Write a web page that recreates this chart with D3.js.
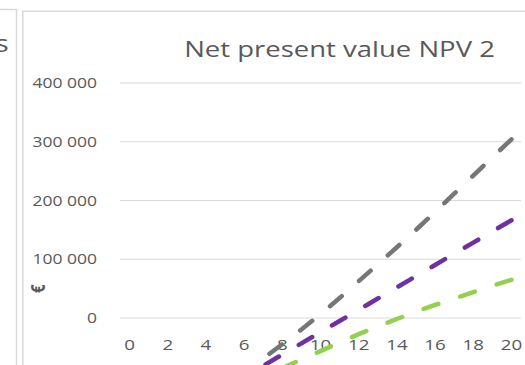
<!DOCTYPE html>
<html>
<head>
<meta charset="utf-8">
<script src="https://cdn.jsdelivr.net/npm/d3@7"></script>
<style>
  html, body { margin: 0; padding: 0; background: #ffffff; }
  svg { display: block; }
  text { font-family: "Open Sans", "Noto Sans", sans-serif; fill: #595959; }
</style>
</head>
<body>
<svg id="chart" width="525" height="365"></svg>
<script>
// Years of the analysis period (category axis)
const years = [0, 1, 2, 3, 4, 5, 6, 7, 8, 9, 10, 11, 12, 13, 14, 15, 16, 17, 18, 19, 20];
// Category labels shown on the axis (every second year)
const xTickLabels = [0, 2, 4, 6, 8, 10, 12, 14, 16, 18, 20];
// Value axis gridlines / labels (€)
const yTicks = [-300000, -200000, -100000, 0, 100000, 200000, 300000, 400000];

// Cumulative net present value per year (€)
const npvGrey = [-220900, -201300, -181000, -160000, -138300, -115900, -92800, -69000, -44500, -19500,
                 6500, 34000, 62500, 91500, 120500, 150000, 180500, 211500, 242500, 273500, 304000];
const npvPurple = [-214600, -195500, -176500, -157400, -138400, -119400, -100300, -81300, -62200, -43200,
                   -24100, -5100, 14000, 33100, 52100, 71200, 90200, 109300, 128300, 147400, 166400];
const npvGreen = [-205000, -190500, -175800, -160900, -146000, -130900, -115800, -100500, -85000, -70800,
                  -56400, -41600, -27500, -14400, -1700, 10700, 22200, 33100, 44100, 55000, 65000];

const seriesList = [
  { values: npvGrey, color: "#767676" },
  { values: npvPurple, color: "#7030a0" },
  { values: npvGreen, color: "#92d050" }
];

const W = 525, H = 365;
const svg = d3.select("#chart");
const stretch = 1.25; // horizontal text stretch of the sheet rendering

// Plot area
const plot = { left: 120, right: 521, top: 83, bottom: 494.25 };

const x = d3.scalePoint().domain(years).range([plot.left, plot.right]).padding(0.5);
const y = d3.scaleLinear().domain([-300000, 400000]).range([plot.bottom, plot.top]);

const locale = d3.formatLocale({ decimal: ",", thousands: " ", grouping: [3], currency: ["", " €"], minus: "-" });
const fmt = locale.format(",d");

// Neighbouring panel edge (left) and chart frame
svg.append("path")
  .attr("d", "M0,9.5H16.5V365")
  .attr("fill", "none").attr("stroke", "#d9d9d9").attr("stroke-width", 1.5);
svg.append("path")
  .attr("d", "M22.75,365V11.25H525")
  .attr("fill", "none").attr("stroke", "#d9d9d9").attr("stroke-width", 1.5);

// Trailing letter of the neighbouring panel's title
svg.append("text")
  .attr("transform", `translate(8.8,51.5) scale(${stretch},1)`)
  .attr("text-anchor", "end")
  .style("font-size", "24px")
  .text("s");

// Title
svg.append("text")
  .attr("transform", `translate(339.5,57) scale(${stretch},1)`)
  .attr("text-anchor", "middle")
  .style("font-size", "22px")
  .text("Net present value NPV 2");

// Horizontal gridlines
svg.append("g")
  .selectAll("line")
  .data(yTicks)
  .join("line")
  .attr("x1", plot.left).attr("x2", plot.right)
  .attr("y1", d => y(d)).attr("y2", d => y(d))
  .attr("stroke", "#d9d9d9").attr("stroke-width", 1.2);

// Value axis labels (only those that fall inside the visible sheet area)
svg.append("g")
  .selectAll("text")
  .data(yTicks.filter(d => y(d) + 5 < H))
  .join("text")
  .attr("transform", d => `translate(97,${y(d) + 5}) scale(${stretch},1)`)
  .attr("text-anchor", "end")
  .style("font-size", "14px")
  .text(d => fmt(d));

// Value axis title
svg.append("text")
  .attr("transform", `translate(44.5,${(plot.top + plot.bottom) / 2}) scale(${stretch},1) rotate(-90)`)
  .attr("text-anchor", "middle")
  .style("font-size", "15px")
  .style("font-weight", "bold")
  .text("€");

// Category labels next to the axis at zero
svg.append("g")
  .selectAll("text")
  .data(xTickLabels)
  .join("text")
  .attr("transform", d => `translate(${x(d)},${y(0) + 32}) scale(${stretch},1)`)
  .attr("text-anchor", "middle")
  .style("font-size", "15px")
  .text(d => d);

// Dashed NPV lines
const line = d3.line()
  .x((d, i) => x(years[i]))
  .y(d => y(d));

svg.append("defs").append("clipPath").attr("id", "plotClip")
  .append("rect")
  .attr("x", plot.left - 10).attr("y", plot.top - 10)
  .attr("width", plot.right - plot.left + 20).attr("height", plot.bottom - plot.top + 20);

const dashOn = 15.5, dashOff = 23, period = dashOn + dashOff;

svg.append("g")
  .attr("clip-path", "url(#plotClip)")
  .selectAll("path")
  .data(seriesList)
  .join("path")
  .attr("d", d => line(d.values))
  .attr("fill", "none")
  .attr("stroke", d => d.color)
  .attr("stroke-width", 4.5)
  .attr("stroke-linecap", "round")
  .attr("stroke-dasharray", `${dashOn},${dashOff}`)
  // phase the pattern so that each line finishes on a dash
  .attr("stroke-dashoffset", function () {
    const L = this.getTotalLength();
    return (((dashOn - L) % period) + period) % period;
  });
</script>
</body>
</html>
